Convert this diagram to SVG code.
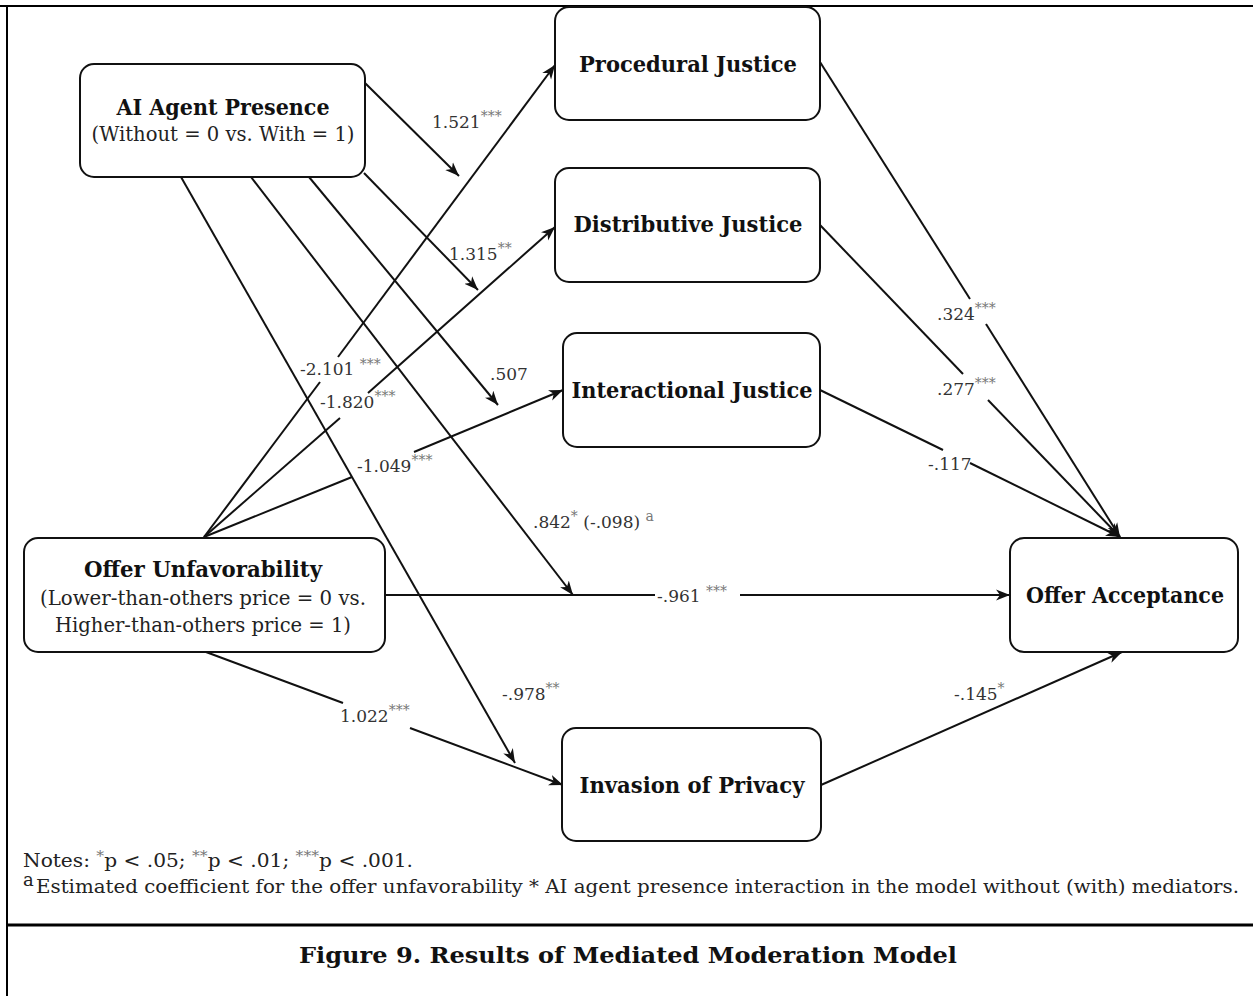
<svg xmlns="http://www.w3.org/2000/svg" width="1253" height="996" viewBox="0 0 1253 996">
<style>
.box{fill:#fff;stroke:#111;stroke-width:2}
.t{font-family:"DejaVu Serif","Liberation Serif",serif;font-weight:bold;font-size:22px;fill:#111;text-anchor:middle}
.s{font-family:"DejaVu Serif","Liberation Serif",serif;font-size:20px;fill:#222;text-anchor:middle}
.c{stroke:#111;stroke-width:2;fill:none}
.ca{stroke:#111;stroke-width:2;fill:none;marker-end:url(#ah)}
.lbl{font-family:"DejaVu Serif","Liberation Serif",serif;font-size:17px;fill:#333}
.sig{font-size:14px;fill:#777}
.note{font-family:"DejaVu Serif","Liberation Serif",serif;font-size:18px;fill:#222}
.cap{font-family:"DejaVu Serif","Liberation Serif",serif;font-weight:bold;font-size:22px;fill:#111;text-anchor:middle}
.frame{stroke:#000;fill:none}
</style>
<defs>
<marker id="ah" markerUnits="userSpaceOnUse" markerWidth="16" markerHeight="12" refX="14" refY="6" orient="auto" viewBox="0 0 16 12">
<path d="M0,0.5 L14,6 L0,11.5 L4,6 Z" fill="#111"/>
</marker>
</defs>
<rect width="1253" height="996" fill="#fff"/>
<g id="frame">
<line class="frame" x1="0" y1="6" x2="1253" y2="6" stroke-width="2"/>
<line class="frame" x1="7" y1="6" x2="7" y2="996" stroke-width="2"/>
<line class="frame" x1="7" y1="925" x2="1253" y2="925" stroke-width="3"/>
</g>
<g id="connectors">
<line class="ca" x1="365" y1="83" x2="459" y2="176"/>
<line class="ca" x1="364" y1="173" x2="478" y2="290"/>
<line class="ca" x1="309" y1="177" x2="498" y2="405"/>
<line class="ca" x1="251" y1="177" x2="573" y2="595"/>
<line class="ca" x1="181" y1="177" x2="515" y2="763"/>
<line class="c" x1="204" y1="537" x2="320" y2="382"/>
<line class="ca" x1="338" y1="357" x2="555" y2="65"/>
<line class="c" x1="204" y1="537" x2="340" y2="418"/>
<line class="ca" x1="368" y1="393" x2="555" y2="227"/>
<line class="c" x1="204" y1="537" x2="352" y2="477"/>
<line class="ca" x1="414" y1="452" x2="563" y2="390"/>
<line class="c" x1="385" y1="595" x2="655" y2="595"/>
<line class="ca" x1="740" y1="595" x2="1010" y2="595"/>
<line class="c" x1="206" y1="652" x2="343" y2="703"/>
<line class="ca" x1="410" y1="728" x2="563" y2="785"/>
<line class="c" x1="820" y1="62" x2="970" y2="299"/>
<line class="ca" x1="986" y1="324" x2="1120" y2="537"/>
<line class="c" x1="820" y1="225" x2="963" y2="374"/>
<line class="ca" x1="988" y1="400" x2="1120" y2="537"/>
<line class="c" x1="820" y1="390" x2="943" y2="450"/>
<line class="ca" x1="970" y1="463" x2="1120" y2="537"/>
<line class="ca" x1="821" y1="785" x2="1122" y2="652"/>
</g>
<g id="labels">
<text class="lbl" x="432" y="128">1.521<tspan class="sig" dy="-7">***</tspan></text>
<text class="lbl" x="449" y="260">1.315<tspan class="sig" dy="-7">**</tspan></text>
<text class="lbl" x="490" y="380">.507</text>
<text class="lbl" x="533" y="528">.842<tspan class="sig" dy="-7">*</tspan><tspan dy="7"> (-.098) </tspan><tspan class="sig" dy="-7">a</tspan></text>
<text class="lbl" x="502" y="700">-.978<tspan class="sig" dy="-7">**</tspan></text>
<text class="lbl" x="300" y="375">-2.101 <tspan class="sig" dy="-6">***</tspan></text>
<text class="lbl" x="320" y="408">-1.820<tspan class="sig" dy="-7">***</tspan></text>
<text class="lbl" x="357" y="472">-1.049<tspan class="sig" dy="-7">***</tspan></text>
<text class="lbl" x="657" y="602">-.961 <tspan class="sig" dy="-6">***</tspan></text>
<text class="lbl" x="340" y="722">1.022<tspan class="sig" dy="-7">***</tspan></text>
<text class="lbl" x="937" y="320">.324<tspan class="sig" dy="-7">***</tspan></text>
<text class="lbl" x="937" y="395">.277<tspan class="sig" dy="-7">***</tspan></text>
<text class="lbl" x="928" y="470">-.117</text>
<text class="lbl" x="954" y="700">-.145<tspan class="sig" dy="-7">*</tspan></text>
</g>
<g id="ai-agent-presence">
<rect class="box" x="80" y="64" width="285" height="113" rx="14"/>
<text class="t" x="223" y="115" textLength="213" lengthAdjust="spacingAndGlyphs">AI Agent Presence</text>
<text class="s" x="223" y="141" textLength="263" lengthAdjust="spacingAndGlyphs">(Without = 0 vs. With = 1)</text>
</g>
<g id="procedural-justice">
<rect class="box" x="555" y="7" width="265" height="113" rx="14"/>
<text class="t" x="688" y="72" textLength="218" lengthAdjust="spacingAndGlyphs">Procedural Justice</text>
</g>
<g id="distributive-justice">
<rect class="box" x="555" y="168" width="265" height="114" rx="14"/>
<text class="t" x="688" y="232" textLength="229" lengthAdjust="spacingAndGlyphs">Distributive Justice</text>
</g>
<g id="interactional-justice">
<rect class="box" x="563" y="333" width="257" height="114" rx="14"/>
<text class="t" x="692" y="398" textLength="241" lengthAdjust="spacingAndGlyphs">Interactional Justice</text>
</g>
<g id="offer-unfavorability">
<rect class="box" x="24" y="538" width="361" height="114" rx="14"/>
<text class="t" x="203" y="577" textLength="238" lengthAdjust="spacingAndGlyphs">Offer Unfavorability</text>
<text class="s" x="203" y="605" textLength="326" lengthAdjust="spacingAndGlyphs">(Lower-than-others price = 0 vs.</text>
<text class="s" x="203" y="632" textLength="296" lengthAdjust="spacingAndGlyphs">Higher-than-others price = 1)</text>
</g>
<g id="offer-acceptance">
<rect class="box" x="1010" y="538" width="228" height="114" rx="14"/>
<text class="t" x="1125" y="603" textLength="198" lengthAdjust="spacingAndGlyphs">Offer Acceptance</text>
</g>
<g id="invasion-of-privacy">
<rect class="box" x="562" y="728" width="259" height="113" rx="14"/>
<text class="t" x="692" y="793" textLength="225" lengthAdjust="spacingAndGlyphs">Invasion of Privacy</text>
</g>
<g id="notes">
<text class="note" x="23" y="867" textLength="390" lengthAdjust="spacingAndGlyphs">Notes: <tspan class="sig" dy="-6" fill="#222">*</tspan><tspan dy="6">p &lt; .05; </tspan><tspan class="sig" dy="-6" fill="#222">**</tspan><tspan dy="6">p &lt; .01; </tspan><tspan class="sig" dy="-6" fill="#222">***</tspan><tspan dy="6">p &lt; .001.</tspan></text>
<text class="note" x="23" y="886" font-size="13">a</text>
<text class="note" x="36" y="893" textLength="1203" lengthAdjust="spacingAndGlyphs">Estimated coefficient for the offer unfavorability * AI agent presence interaction in the model without (with) mediators.</text>
<text class="cap" x="628" y="963" textLength="658" lengthAdjust="spacingAndGlyphs">Figure 9. Results of Mediated Moderation Model</text>
</g>
</svg>
